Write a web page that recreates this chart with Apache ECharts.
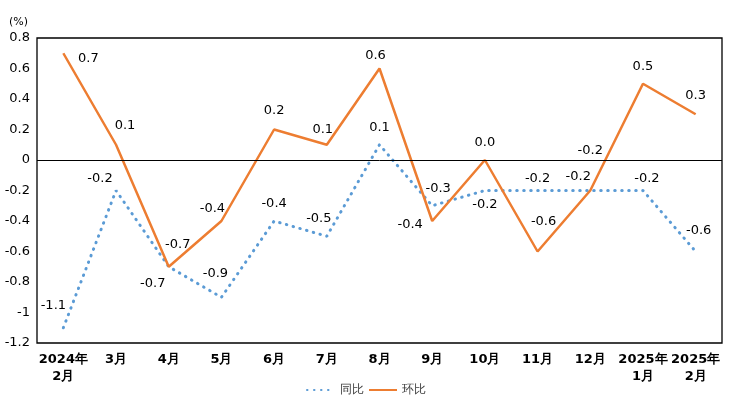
<!DOCTYPE html>
<html lang="zh">
<head>
<meta charset="UTF-8">
<title>同比 / 环比</title>
<script src="https://cdn.jsdelivr.net/npm/echarts@6.0.0/dist/echarts.min.js"></script>
<style>
  html, body { margin: 0; padding: 0; background: #fff; }
  #chart { width: 732px; height: 398px; }
</style>
</head>
<body>
<div id="chart"></div>
<script>
    // categories (x axis)
    var months = ['2024年\n2月', '3月', '4月', '5月', '6月', '7月', '8月', '9月', '10月', '11月', '12月', '2025年\n1月', '2025年\n2月'];
    // year-on-year
    var tongbi = [-1.1, -0.2, -0.7, -0.9, -0.4, -0.5, 0.1, -0.3, -0.2, -0.2, -0.2, -0.2, -0.6];
    // month-on-month
    var huanbi = [0.7, 0.1, -0.7, -0.4, 0.2, 0.1, 0.6, -0.4, 0.0, -0.6, -0.2, 0.5, 0.3];

    // label nudges so the numbers sit where they do in the original
    var tongbiOffsets = [[-10, -10], [-16, 1], [-16, 29], [-6, -11], [0, -5], [-8, -5], [0, -5], [6, -5], [0, 27], [0, 1], [-12, -1], [4, 1], [3, -8]];
    var huanbiOffsets = [[25, 18], [9, -7], [9, -10], [-9, 0], [0, -6], [-4, -3], [-4, 0], [-22, 16], [0, -5], [6, -17], [0, -27], [0, -5], [0, -6]];

    var FONT = 'DejaVu Sans';
    var CLEAR = 'rgba(0,0,0,0)';

    function withLabels(values, offsets) {
        return values.map(function (v, i) {
            return { value: v, label: { offset: offsets[i] } };
        });
    }

    var labelStyle = {
        show: true, position: 'top', color: '#000', fontSize: 13, fontFamily: FONT,
        formatter: function (p) { return p.value.toFixed(1); }
    };

    var chart = echarts.init(document.getElementById('chart'));
    var option = {
        animation: false,
        textStyle: { fontFamily: FONT },
        grid: {
            left: 37, right: 10, top: 38, bottom: 55,
            show: true, borderColor: '#000', borderWidth: 1.3
        },
        legend: {
            bottom: -3,
            left: 'center',
            itemWidth: 28,
            itemHeight: 10,
            itemGap: 4,
            textStyle: { fontFamily: FONT, fontSize: 12, color: '#404040' },
            data: ['同比', '环比']
        },
        xAxis: {
            type: 'category',
            data: months,
            axisLine: { show: false },
            axisTick: { show: false },
            axisLabel: {
                interval: 0,
                margin: 8,
                color: '#000',
                fontWeight: 'bold',
                fontSize: 13,
                lineHeight: 17,
                fontFamily: FONT
            }
        },
        yAxis: {
            type: 'value',
            min: -1.2,
            max: 0.8,
            interval: 0.2,
            name: '(%)',
            nameLocation: 'end',
            nameGap: 10,
            nameTextStyle: { color: '#000', fontSize: 11, align: 'right', padding: [0, 9, 0, 0], fontFamily: FONT },
            axisLine: { show: false },
            axisTick: { show: false },
            splitLine: { show: false },
            axisLabel: { color: '#000', fontSize: 13, margin: 7, fontFamily: FONT }
        },
        series: [
            {
                name: '同比',
                type: 'line',
                data: withLabels(tongbi, tongbiOffsets),
                symbol: 'circle',
                symbolSize: 2,
                showAllSymbol: true,
                itemStyle: { color: CLEAR, borderWidth: 0 },
                lineStyle: { width: 3, type: [0.5, 6.5], cap: 'round', color: '#5B9BD5' },
                label: labelStyle,
                z: 3
            },
            {
                name: '环比',
                type: 'line',
                data: withLabels(huanbi, huanbiOffsets),
                symbol: 'circle',
                symbolSize: 2,
                showAllSymbol: true,
                itemStyle: { color: CLEAR, borderWidth: 0 },
                lineStyle: { width: 2.5, color: '#ED7D31' },
                label: labelStyle,
                markLine: {
                    silent: true,
                    symbol: 'none',
                    label: { show: false },
                    lineStyle: { color: '#000', type: 'solid', width: 1 },
                    data: [{ yAxis: 0 }]
                },
                z: 4
            }
        ]
    };
    chart.setOption(option);
</script>
</body>
</html>
